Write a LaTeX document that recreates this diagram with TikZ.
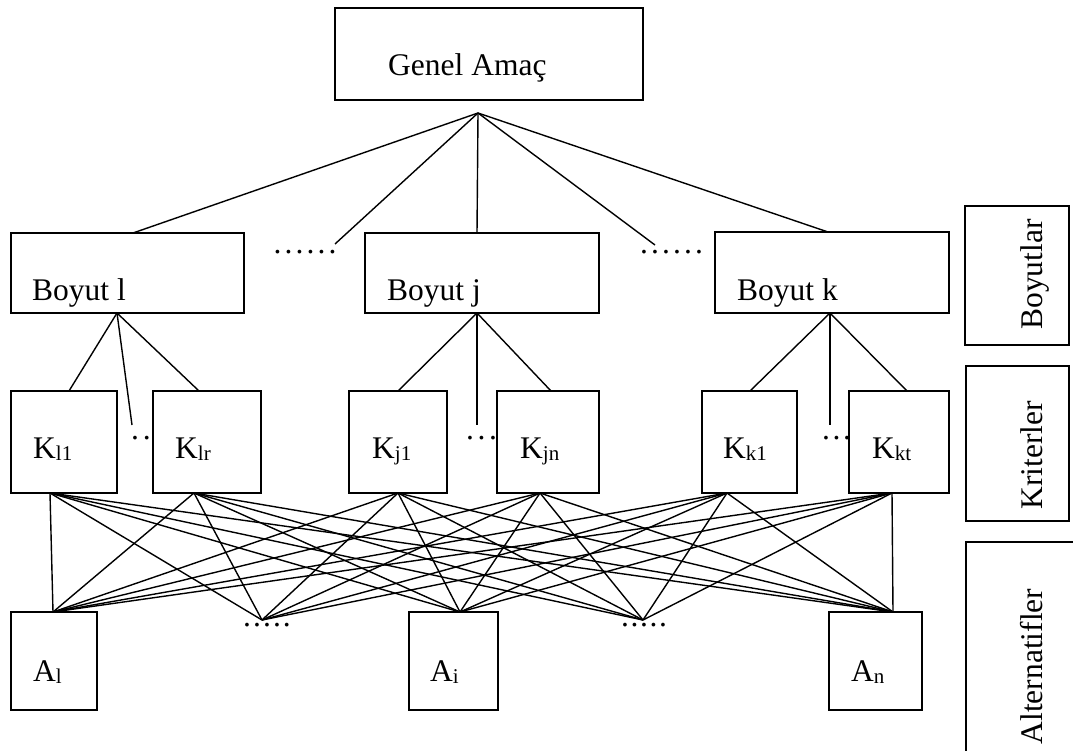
\documentclass[tikz,border=0pt]{standalone}
\usepackage{fontspec}
\setmainfont{Liberation Serif}
\usetikzlibrary{fit}
% smaller lowered index used in the node labels
\newcommand\sbs[1]{\raisebox{-2.5pt}{\fontsize{21}{21}\selectfont #1}}
\begin{document}
\begin{tikzpicture}[x=1pt,y=-1pt,
  box/.style={draw, line width=1.4pt, inner sep=0pt, fit={#1}},
  lbl/.style={anchor=base west, inner sep=0pt, font=\fontsize{31.5}{36}\selectfont},
  side/.style={anchor=base, rotate=90, inner sep=0pt, font=\fontsize{31.5}{36}\selectfont},
  dotrow/.style={anchor=base, inner sep=0pt, font=\fontsize{31.5}{36}\selectfont},
  link/.style={line width=1.4pt}]
\useasboundingbox (0,0) rectangle (1073,751);
\clip (0,0) rectangle (1073,751);

% ---- boxes ----
\node[box={(335,8) (643,100)}] (goal) {};
\node[box={(11,233) (244,313)}]  (B1) {};
\node[box={(365,233) (599,313)}] (Bj) {};
\node[box={(715,232) (949,313)}] (Bk) {};
\node[box={(11,391) (117,493)}]  (Kl1) {};
\node[box={(153,391) (261,493)}] (Klr) {};
\node[box={(349,391) (447,493)}] (Kj1) {};
\node[box={(497,391) (599,493)}] (Kjn) {};
\node[box={(702,391) (797,493)}] (Kk1) {};
\node[box={(849,391) (949,493)}] (Kkt) {};
\node[box={(11,612) (97,710)}]   (Al) {};
\node[box={(409,612) (498,710)}] (Ai) {};
\node[box={(829,612) (922,710)}] (An) {};
\node[box={(965,206) (1069,345)}] (SB) {};
\node[box={(966,366) (1069,521)}] (SK) {};
\node[box={(966,542) (1100,790)}] (SA) {};

% ---- texts ----
\node[lbl] (tgoal) at (388,76) {Genel Amaç};
\node[lbl] (tB1) at (32,300) {Boyut l};
\node[lbl] (tBj) at (387,300) {Boyut j};
\node[lbl] (tBk) at (737,300) {Boyut k};
\node[lbl] (tKl1) at (33,458) {K\sbs{l1}};
\node[lbl] (tKlr) at (175,458) {K\sbs{lr}};
\node[lbl] (tKj1) at (372,458) {K\sbs{j1}};
\node[lbl] (tKjn) at (520,458) {K\sbs{jn}};
\node[lbl] (tKk1) at (723,458) {K\sbs{k1}};
\node[lbl] (tKkt) at (872,458) {K\sbs{kt}};
\node[lbl] (tAl) at (33,681) {A\sbs{l}};
\node[lbl] (tAi) at (430,681) {A\sbs{i}};
\node[lbl] (tAn) at (851,681) {A\sbs{n}};
\node[side] (tSB) at (1042,274.5) {Boyutlar};
\node[side] (tSK) at (1042,455.5) {Kriterler};
\node[side] (tSA) at (1042,666.5) {Alternatifler};

% ---- dotted gaps ----
\node[dotrow] (d1) at (305,254) {.\kern3.1pt.\kern3.1pt.\kern3.1pt.\kern3.1pt.\kern3.1pt.};
\node[dotrow] (d2) at (671.5,254) {.\kern3.1pt.\kern3.1pt.\kern3.1pt.\kern3.1pt.\kern3.1pt.};
\node[dotrow] (d3) at (141,439) {.\kern4pt.};
\node[dotrow] (d4) at (481.5,439) {.\kern3.6pt.\kern3.6pt.};
\node[dotrow] (d5) at (836.5,439) {.\kern2.6pt.\kern2.6pt.};
\node[dotrow] (d6) at (267,626) {.\kern2.1pt.\kern2.1pt.\kern2.1pt.\kern2.1pt.};
\node[dotrow] (d7) at (644,626) {.\kern1.6pt.\kern1.6pt.\kern1.6pt.\kern1.6pt.};

% ---- connection points ----
\coordinate (gA) at (478,113);
\coordinate (t1) at (133,233);
\coordinate (e1) at (335,244);
\coordinate (tj) at (477,233);
\coordinate (e2) at (655,245);
\coordinate (tk) at (828,232);

\coordinate (b1) at (117,313);
\coordinate (bj) at (477,313);
\coordinate (bk) at (830,313);
\coordinate (k1t) at (69,391);
\coordinate (k2t) at (199,391);
\coordinate (k3t) at (398,391);
\coordinate (k4t) at (551,391);
\coordinate (k5t) at (750,391);
\coordinate (k6t) at (907,391);
\coordinate (v1) at (132,425);
\coordinate (v2) at (477,425);
\coordinate (v3) at (830,425);

\coordinate (kl1) at (50,493);
\coordinate (klr) at (194,493);
\coordinate (kj1) at (398,493);
\coordinate (kjn) at (540,493);
\coordinate (kk1) at (727,493);
\coordinate (kkt) at (892,493);
\coordinate (al)  at (53,612);
\coordinate (ad1) at (262,620);
\coordinate (ai)  at (460,612);
\coordinate (ad2) at (643,620);
\coordinate (an)  at (893,612);

% ---- goal to dimensions ----
\foreach \p in {t1,e1,tj,e2,tk} \draw[link] (gA) -- (\p);

% ---- dimensions to criteria ----
\draw[link] (k1t) -- (b1) -- (k2t);
\draw[link] (b1) -- (v1);
\draw[link] (k3t) -- (bj) -- (k4t);
\draw[link] (bj) -- (v2);
\draw[link] (k5t) -- (bk) -- (k6t);
\draw[link] (bk) -- (v3);

% ---- criteria to alternatives ----
\foreach \k in {kl1,klr,kj1,kjn,kk1,kkt}
  \foreach \a in {al,ad1,ai,ad2,an}
    \draw[link] (\k) -- (\a);
\end{tikzpicture}
\end{document}
